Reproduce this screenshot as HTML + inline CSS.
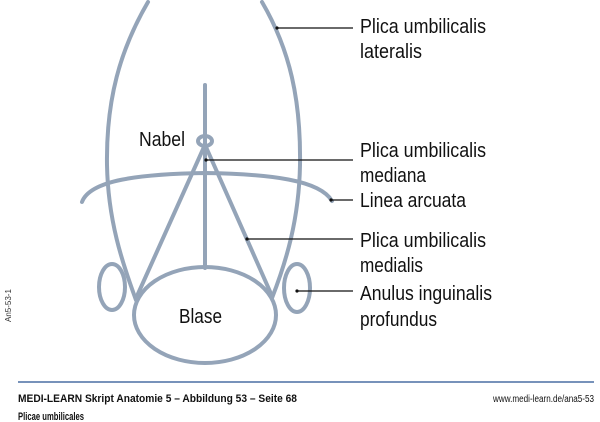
<!DOCTYPE html>
<html><head><meta charset="utf-8"><style>
html,body{margin:0;padding:0;background:#fff;}
svg{display:block;}
.lb{font-family:"Liberation Sans",sans-serif;font-size:20px;fill:#111;}
.ft{font-family:"Liberation Sans",sans-serif;font-size:11px;fill:#111;}
</style></head><body>
<svg width="600" height="422" viewBox="0 0 600 422" xmlns="http://www.w3.org/2000/svg">
<g fill="none" stroke="#94a4b8" stroke-width="4" stroke-linecap="round">
  <path d="M148,2 C120,50 106,100 107,165 C108,220 122,262 136,300"/>
  <path d="M262,2 C290,50 301,100 300,165 C299,220 286,262 272,298"/>
  <path d="M82,202 C90,180 140,174 205,173 C270,174 320,180 332,201"/>
  <line x1="205" y1="85" x2="205" y2="268"/>
  <ellipse cx="205" cy="141" rx="7" ry="5"/>
  <line x1="204" y1="147" x2="137" y2="296"/>
  <line x1="206" y1="147" x2="272" y2="296"/>
  <ellipse cx="205" cy="315" rx="71" ry="48"/>
  <ellipse cx="112" cy="287" rx="13" ry="23"/>
  <ellipse cx="297" cy="288" rx="13" ry="24"/>
</g>
<g stroke="#111" stroke-width="1.3">
  <line x1="277" y1="28" x2="353" y2="28"/>
  <line x1="206" y1="160" x2="353" y2="160"/>
  <line x1="331" y1="200" x2="353" y2="200"/>
  <line x1="247" y1="239" x2="353" y2="239"/>
  <line x1="297" y1="291" x2="353" y2="291"/>
</g>
<g fill="#111">
  <circle cx="277" cy="28" r="1.6"/><circle cx="206" cy="160" r="1.6"/>
  <circle cx="331" cy="200" r="1.6"/><circle cx="247" cy="239" r="1.6"/>
  <circle cx="297" cy="291" r="1.6"/>
</g>
<text class="lb" x="139" y="146" textLength="46" lengthAdjust="spacingAndGlyphs">Nabel</text>
<text class="lb" x="179" y="323" textLength="43" lengthAdjust="spacingAndGlyphs">Blase</text>
<text class="lb" x="360" y="33" textLength="126" lengthAdjust="spacingAndGlyphs">Plica umbilicalis</text>
<text class="lb" x="360" y="58" textLength="62" lengthAdjust="spacingAndGlyphs">lateralis</text>
<text class="lb" x="360" y="157" textLength="126" lengthAdjust="spacingAndGlyphs">Plica umbilicalis</text>
<text class="lb" x="360" y="182" textLength="66" lengthAdjust="spacingAndGlyphs">mediana</text>
<text class="lb" x="360" y="207" textLength="106" lengthAdjust="spacingAndGlyphs">Linea arcuata</text>
<text class="lb" x="360" y="247" textLength="126" lengthAdjust="spacingAndGlyphs">Plica umbilicalis</text>
<text class="lb" x="360" y="272" textLength="63" lengthAdjust="spacingAndGlyphs">medialis</text>
<text class="lb" x="360" y="300" textLength="132" lengthAdjust="spacingAndGlyphs">Anulus inguinalis</text>
<text class="lb" x="360" y="326" textLength="77" lengthAdjust="spacingAndGlyphs">profundus</text>
<text x="11" y="322" transform="rotate(-90 11 322)" style="font-family:'Liberation Sans',sans-serif;font-size:8px;fill:#333">An5-53-1</text>
<line x1="18" y1="382" x2="594" y2="382" stroke="#4a6fa3" stroke-width="1.5"/>
<text class="ft" x="18" y="402" font-weight="bold" textLength="279" lengthAdjust="spacingAndGlyphs">MEDI-LEARN Skript Anatomie 5 – Abbildung 53 – Seite 68</text>
<text class="ft" x="18" y="420" font-weight="bold" textLength="66" lengthAdjust="spacingAndGlyphs">Plicae umbilicales</text>
<text class="ft" x="594" y="402" text-anchor="end" style="font-size:10px" textLength="101" lengthAdjust="spacingAndGlyphs">www.medi-learn.de/ana5-53</text>
</svg>
</body></html>
